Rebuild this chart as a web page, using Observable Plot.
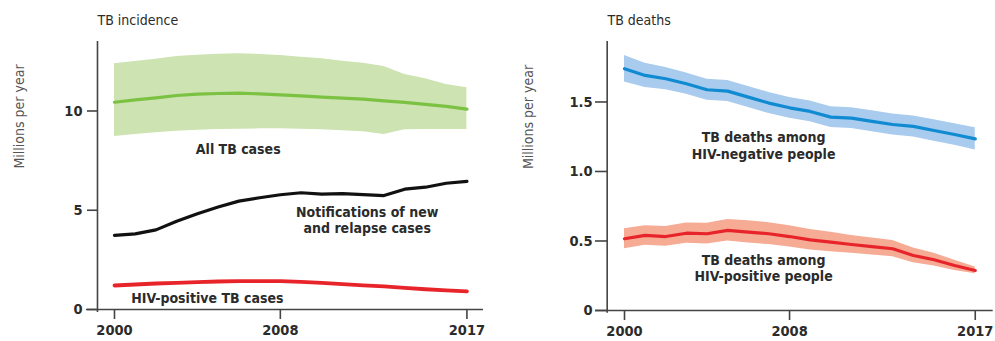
<!DOCTYPE html>
<html><head><meta charset="utf-8">
<script src="https://cdn.jsdelivr.net/npm/d3@7"></script>
<script src="https://cdn.jsdelivr.net/npm/@observablehq/plot@0.6"></script>
<style>
html,body{margin:0;padding:0;background:#fff;}
#wrap{display:flex;width:995px;height:341px;}
svg{font-family:"Liberation Sans Narrow","DejaVu Sans Condensed",sans-serif;}
</style></head>
<body><div id="wrap"></div>
<script>
const years = [2000,2001,2002,2003,2004,2005,2006,2007,2008,2009,2010,2011,2012,2013,2014,2015,2016,2017];
// TB incidence (millions per year)
const allTB    = [10.44,10.56,10.66,10.78,10.85,10.88,10.90,10.86,10.81,10.76,10.70,10.65,10.60,10.51,10.43,10.33,10.23,10.09];
const allTBhi  = [12.38,12.49,12.61,12.75,12.81,12.86,12.88,12.85,12.80,12.71,12.63,12.51,12.41,12.24,11.84,11.62,11.33,11.17];
const allTBlo  = [8.72,8.82,8.90,8.98,9.03,9.07,9.08,9.10,9.10,9.08,9.05,9.00,8.95,8.82,9.05,9.07,9.07,9.07];
const notified = [3.73,3.81,4.01,4.45,4.82,5.16,5.46,5.63,5.78,5.88,5.81,5.84,5.79,5.74,6.06,6.16,6.36,6.45];
const hivPosTB = [1.21,1.26,1.31,1.34,1.38,1.41,1.43,1.43,1.43,1.39,1.34,1.28,1.21,1.16,1.09,1.02,0.96,0.91];
// TB deaths (millions per year)
const deathsNeg   = [1.739,1.691,1.667,1.631,1.588,1.578,1.535,1.492,1.458,1.432,1.391,1.384,1.360,1.338,1.324,1.295,1.266,1.235];
const deathsNegHi = [1.835,1.778,1.748,1.708,1.664,1.655,1.612,1.568,1.533,1.507,1.466,1.459,1.436,1.413,1.400,1.372,1.344,1.315];
const deathsNegLo = [1.643,1.605,1.588,1.556,1.512,1.503,1.460,1.417,1.383,1.357,1.316,1.309,1.285,1.263,1.248,1.218,1.188,1.155];
const deathsPos   = [0.516,0.540,0.532,0.556,0.552,0.576,0.564,0.552,0.532,0.508,0.492,0.475,0.460,0.444,0.396,0.365,0.324,0.288];
const deathsPosHi = [0.588,0.610,0.604,0.630,0.628,0.655,0.646,0.632,0.610,0.583,0.562,0.540,0.522,0.503,0.450,0.412,0.362,0.313];
const deathsPosLo = [0.444,0.470,0.462,0.484,0.478,0.500,0.485,0.474,0.456,0.435,0.423,0.411,0.400,0.386,0.344,0.320,0.288,0.265];
const xTicks = [2000,2008,2017];
const yTicksLeft = [0,5,10];
const yTicksRight = [0,0.5,1.0,1.5];
const yTickLabelsRight = ["0","0.5","1.0","1.5"];
const titles = ["TB incidence","TB deaths"];
const yLabel = "Millions per year";
const labelsLeft = ["All TB cases","Notifications of new\nand relapse cases","HIV-positive TB cases"];
const labelsRight = ["TB deaths among\nHIV-negative people","TB deaths among\nHIV-positive people"];

const inc = years.map((y,i)=>({year:y, all:allTB[i], hi:allTBhi[i], lo:allTBlo[i], notif:notified[i], hiv:hivPosTB[i]}));
const dth = years.map((y,i)=>({year:y, neg:deathsNeg[i], negHi:deathsNegHi[i], negLo:deathsNegLo[i], pos:deathsPos[i], posHi:deathsPosHi[i], posLo:deathsPosLo[i]}));

const axisColor = "#444";
const textColor = "#2b2b2b";
const lab = {fontSize: 14, fontWeight: 600, fill: textColor};
const tickFont = {fontSize: 14.5, fontWeight: 600, fill: textColor};

const left = Plot.plot({
  width: 497, height: 341,
  marginLeft: 86, marginRight: 14, marginTop: 41, marginBottom: 32,
  style: {fontSize: "15px", color: textColor, background: "#fff"},
  x: {domain: [1998.65, 2017.8]},
  y: {domain: [0, 13.5]},
  marks: [
    Plot.areaY(inc, {x: "year", y1: "lo", y2: "hi", fill: "#cde3b1"}),
    Plot.lineY(inc, {x: "year", y: "all", stroke: "#7cc242", strokeWidth: 3.2}),
    Plot.lineY(inc, {x: "year", y: "notif", stroke: "#111", strokeWidth: 3.2}),
    Plot.lineY(inc, {x: "year", y: "hiv", stroke: "#e8242b", strokeWidth: 3.8}),
    Plot.ruleX([1999.18], {y1: -0.15, y2: 13.5, stroke: axisColor, strokeWidth: 1.6}),
    Plot.ruleY([0], {stroke: axisColor, strokeWidth: 1.6}),
    Plot.axisY({ticks: yTicksLeft, tickSize: 10, dx: 11, tickPadding: 5, label: null, stroke: axisColor, strokeWidth: 1.6, ...tickFont}),
    Plot.axisX({ticks: xTicks, tickFormat: d => String(d), tickSize: 10, tickPadding: 5, label: null, stroke: axisColor, strokeWidth: 1.6, ...tickFont}),
    Plot.text([titles[0]], {frameAnchor: "top-left", dx: 11, dy: -26, fontSize: 14, fill: textColor}),
    Plot.text([yLabel], {frameAnchor: "left", dx: -67, dy: -7, rotate: -90, fontSize: 14, fill: "#555"}),
    Plot.text([labelsLeft[0]], {x: 2005.97, y: 8.06, ...lab}),
    Plot.text([labelsLeft[1]], {x: 2012.19, y: 4.51, lineHeight: 1.18, ...lab}),
    Plot.text([labelsLeft[2]], {x: 2004.48, y: 0.55, ...lab})
  ]
});

const right = Plot.plot({
  width: 498, height: 341,
  marginLeft: 98, marginRight: 2.3, marginTop: 41, marginBottom: 31,
  style: {fontSize: "15px", color: textColor, background: "#fff"},
  x: {domain: [1998.594, 2017.87]},
  y: {domain: [0, 1.935]},
  marks: [
    Plot.areaY(dth, {x: "year", y1: "negLo", y2: "negHi", fill: "#a9cbee"}),
    Plot.areaY(dth, {x: "year", y1: "posLo", y2: "posHi", fill: "#f6ab95"}),
    Plot.lineY(dth, {x: "year", y: "neg", stroke: "#108bd2", strokeWidth: 3.2}),
    Plot.lineY(dth, {x: "year", y: "pos", stroke: "#e8242b", strokeWidth: 3.2}),
    Plot.ruleX([1999.16], {y1: -0.02, y2: 1.935, stroke: axisColor, strokeWidth: 1.6}),
    Plot.ruleY([0], {stroke: axisColor, strokeWidth: 1.6}),
    Plot.axisY({ticks: yTicksRight, tickFormat: (d,i) => yTickLabelsRight[i], tickSize: 12, dx: 12, tickPadding: 3, label: null, stroke: axisColor, strokeWidth: 1.6, ...tickFont}),
    Plot.axisX({ticks: xTicks, tickFormat: d => String(d), tickSize: 10, tickPadding: 5, label: null, stroke: axisColor, strokeWidth: 1.6, ...tickFont}),
    Plot.text([titles[1]], {frameAnchor: "top-left", dx: 12, dy: -26, fontSize: 14, fill: textColor}),
    Plot.text([yLabel], {frameAnchor: "left", dx: -67, dy: -7, rotate: -90, fontSize: 14, fill: "#555"}),
    Plot.text([labelsRight[0]], {x: 2006.74, y: 1.19, lineHeight: 1.18, ...lab}),
    Plot.text([labelsRight[1]], {x: 2006.74, y: 0.306, lineHeight: 1.18, ...lab})
  ]
});

document.getElementById("wrap").append(left, right);
</script>
</body></html>
